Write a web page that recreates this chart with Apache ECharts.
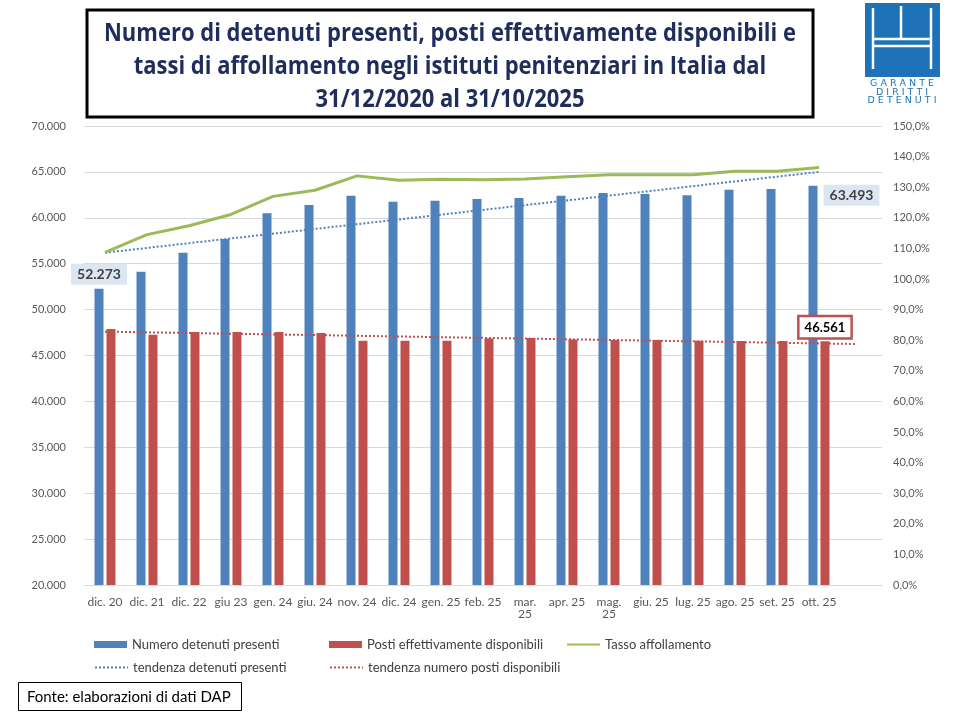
<!DOCTYPE html>
<html>
<head>
<meta charset="utf-8">
<script src="https://cdn.jsdelivr.net/npm/echarts@6/dist/echarts.min.js"></script>
<style>html,body{margin:0;padding:0;background:#fff;}#c{width:960px;height:720px;}</style>
</head>
<body>
<div id="c"></div>
<script>
// ---- data ----
var categories = ['dic. 20','dic. 21','dic. 22','giu 23','gen. 24','giu. 24','nov. 24','dic. 24','gen. 25','feb. 25','mar. 25','apr. 25','mag. 25','giu. 25','lug. 25','ago. 25','set. 25','ott. 25'];
var detenuti = [52273, 54134, 56196, 57700, 60500, 61400, 62400, 61750, 61850, 62050, 62150, 62400, 62700, 62600, 62450, 63050, 63150, 63493];
var posti = [47900, 47250, 47550, 47550, 47550, 47450, 46600, 46600, 46600, 46850, 46900, 46750, 46700, 46700, 46620, 46580, 46580, 46561];
var tasso = [108.7, 114.5, 117.4, 121.1, 127.0, 129.0, 133.7, 132.3, 132.6, 132.4, 132.7, 133.4, 134.1, 134.1, 134.1, 135.2, 135.2, 136.4];
// linear trend end points (category index, value)
var trendDetX = [0, 17];
var trendDetY = [56200, 65000];
var trendPostiX = [0, 17.9];
var trendPostiY = [47600, 46250];
var leftTicks = {min: 20000, max: 70000, interval: 5000};
var rightTicks = {min: 0, max: 150, interval: 10};
var titleText = 'Numero di detenuti presenti, posti effettivamente disponibili e\ntassi di affollamento negli istituti penitenziari in Italia dal\n31/12/2020 al 31/10/2025';

var fmtThousands = function (v) { return String(Math.round(v)).replace(/\B(?=(\d{3})+(?!\d))/g, '.'); };
var fmtPct = function (v) { return v.toFixed(1).replace('.', ',') + '%'; };
var wrapped = {'mar. 25': 1, 'mag. 25': 1};

var BLUE = '#4F81BD', RED = '#C0504D', GREEN = '#9BBB59';
var FONT = 'Lato, "Open Sans", sans-serif';
var last = categories.length - 1;

var detData = detenuti.map(function (v, i) {
  var d = {value: v};
  if (i === 0) {
    d.label = {show: true, position: 'top', distance: 4, formatter: fmtThousands(v),
      backgroundColor: '#DCE6F2', padding: [4, 6, 3, 6], color: '#404040', fontWeight: 'bold', fontSize: 14, fontFamily: FONT};
  } else if (i === last) {
    d.label = {show: true, position: [15, -1], formatter: fmtThousands(v),
      backgroundColor: '#DCE6F2', padding: [4, 6, 3, 6], color: '#404040', fontWeight: 'bold', fontSize: 14, fontFamily: FONT};
  }
  return d;
});
var postiData = posti.map(function (v, i) {
  var d = {value: v};
  if (i === last) {
    d.label = {show: true, position: 'top', distance: 4, formatter: fmtThousands(v),
      backgroundColor: '#fff', borderColor: RED, borderWidth: 2.5, padding: [4, 5, 3, 5], color: '#000', fontWeight: 'bold', fontSize: 13, fontFamily: FONT};
  }
  return d;
});
var tassoData = tasso.map(function (v, i) {
  var d = {value: v};
  if (i === last) {
    d.label = {show: true, position: 'right', distance: 7, formatter: fmtPct(v),
      backgroundColor: '#86A844', borderColor: '#6B8A34', borderWidth: 3, padding: [4, 4, 3, 4], color: '#fff', fontWeight: 'bold', fontSize: 14, fontFamily: FONT};
  }
  return d;
});
var trendDet = trendDetX.map(function (x, i) { return [x, trendDetY[i]]; });
var trendPosti = trendPostiX.map(function (x, i) { return [x, trendPostiY[i]]; });

var chart = echarts.init(document.getElementById('c'));
var legendText = {color: '#404040', fontSize: 13, fontFamily: FONT};
function leg(name, left, top, h, isLine) {
  var l = {data: [{name: name, icon: isLine ? undefined : 'rect'}], left: left, top: top, itemWidth: 33, itemHeight: h, itemGap: 0, textStyle: legendText, selectedMode: false};
  if (isLine) { l.itemStyle = {opacity: 0}; }
  return l;
}
function logoText(t, y) {
  return {type: 'text', x: 902, y: y, z: 11, style: {text: t, fill: '#1E73B8', fontSize: 9.5, fontFamily: '"DejaVu Sans", sans-serif', align: 'center', verticalAlign: 'middle'}};
}
function logoLine(pts) {
  return {type: 'polyline', shape: {points: pts}, style: {stroke: '#fff', lineWidth: 2.5}, z: 11};
}
chart.setOption({
  animation: false,
  backgroundColor: '#fff',
  legend: [
    leg('Numero detenuti presenti', 89, 633, 7, false),
    leg('Posti effettivamente disponibili', 324, 633, 7, false),
    leg('Tasso affollamento', 561, 633, 8, true),
    leg('tendenza detenuti presenti', 89, 656, 8, true),
    leg('tendenza numero posti disponibili', 324, 656, 8, true)
  ],
  grid: {left: 84, right: 78, top: 126, bottom: 135, containLabel: false},
  xAxis: [{
    type: 'category', data: categories.concat(['']),
    axisLine: {show: true, lineStyle: {color: '#D9D9D9'}}, axisTick: {show: false},
    axisLabel: {color: '#595959', fontSize: 12, fontFamily: FONT, margin: 11, interval: 0,
      formatter: function (v) { return wrapped[v] ? v.replace(' ', '\n') : v; }}
  }, {
    type: 'value', min: -0.5, max: 18.5, show: false
  }],
  yAxis: [{
    type: 'value', min: leftTicks.min, max: leftTicks.max, interval: leftTicks.interval,
    axisLine: {show: false}, axisTick: {show: false},
    splitLine: {lineStyle: {color: '#D9D9D9'}},
    axisLabel: {color: '#595959', fontSize: 11, fontFamily: FONT, margin: 18, formatter: fmtThousands}
  }, {
    type: 'value', min: rightTicks.min, max: rightTicks.max, interval: rightTicks.interval,
    axisLine: {show: false}, axisTick: {show: false}, splitLine: {show: false},
    axisLabel: {color: '#595959', fontSize: 11, fontFamily: FONT, margin: 11, formatter: fmtPct}
  }],
  series: [
    {name: 'Numero detenuti presenti', type: 'bar', data: detData, barWidth: 9, barGap: '33%', itemStyle: {color: BLUE}, z: 2},
    {name: 'Posti effettivamente disponibili', type: 'bar', data: postiData, barWidth: 9, barGap: '33%', itemStyle: {color: RED}, z: 2},
    {name: 'Tasso affollamento', type: 'line', yAxisIndex: 1, data: tassoData, symbol: 'none', lineStyle: {color: GREEN, width: 3}, itemStyle: {color: GREEN}, z: 4},
    {name: 'tendenza detenuti presenti', type: 'line', xAxisIndex: 1, data: trendDet, symbol: 'none', lineStyle: {color: BLUE, width: 2, type: [2, 2]}, itemStyle: {color: BLUE}, z: 3},
    {name: 'tendenza numero posti disponibili', type: 'line', xAxisIndex: 1, data: trendPosti, symbol: 'none', lineStyle: {color: RED, width: 2, type: [2, 2]}, itemStyle: {color: RED}, z: 3}
  ],
  graphic: [
    {type: 'rect', shape: {x: 87, y: 10, width: 726, height: 107}, style: {fill: 'none', stroke: '#000', lineWidth: 3}, z: 10},
    {type: 'text', x: 450, y: 17, scaleX: 0.88, z: 11,
      style: {text: titleText, fill: '#1F2D5C', fontSize: 25, fontWeight: 'bold', fontFamily: '"Open Sans", sans-serif', lineHeight: 33, align: 'center', verticalAlign: 'top'}},
    {type: 'rect', shape: {x: 18.5, y: 682.5, width: 223, height: 28}, style: {fill: '#fff', stroke: '#000', lineWidth: 1}, z: 10},
    {type: 'text', x: 27, y: 697, z: 11, style: {text: 'Fonte: elaborazioni di dati DAP', fill: '#000', fontSize: 15, fontFamily: FONT, verticalAlign: 'middle'}},
    // logo
    {type: 'rect', shape: {x: 865, y: 3, width: 75, height: 74}, style: {fill: '#1E73B8'}, z: 10},
    logoLine([[873, 8], [873, 69]]),
    logoLine([[931, 8], [931, 69]]),
    logoLine([[901, 6], [901, 39]]),
    logoLine([[873, 39], [931, 39]]),
    logoLine([[873, 46], [931, 46]]),
    logoText('G A R A N T E', 84),
    logoText('D I R I T T I', 92.5),
    logoText('D E T E N U T I', 101)
  ]
});
</script>
</body>
</html>
